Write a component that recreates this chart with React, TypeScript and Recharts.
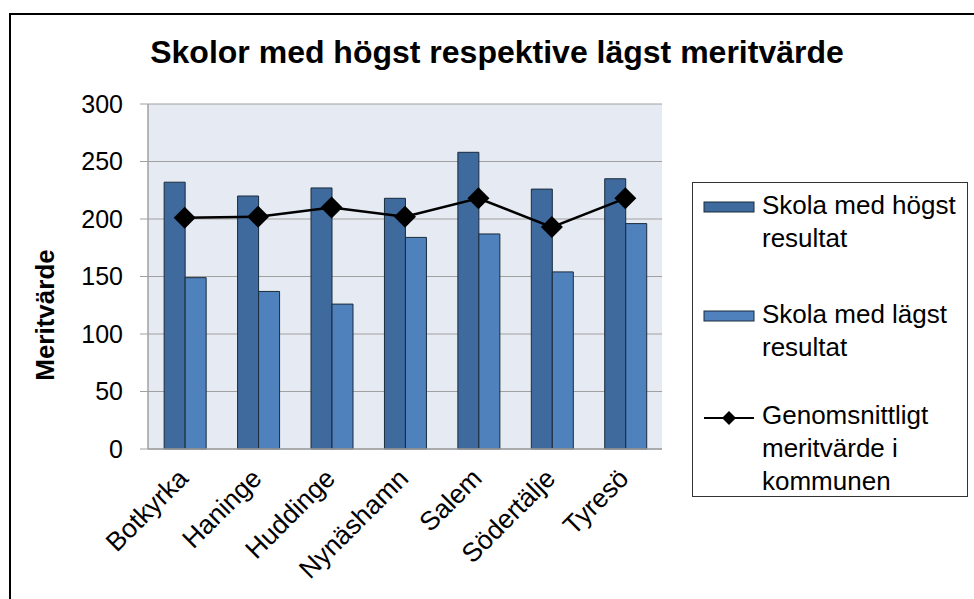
import { Bar, CartesianGrid, ComposedChart, Legend, Line, XAxis, YAxis } from "recharts";

const kommuner = ["Botkyrka", "Haninge", "Huddinge", "Nynäshamn", "Salem", "Södertälje", "Tyresö"];
const hogst = [232, 220, 227, 218, 258, 226, 235];
const lagst = [149, 137, 126, 184, 187, 154, 196];
const snitt = [201, 202, 210, 202, 218, 193, 218];
const yTicks = [0, 50, 100, 150, 200, 250, 300];

const data = kommuner.map((name, i) => ({
  name,
  hogst: hogst[i],
  lagst: lagst[i],
  snitt: snitt[i],
}));

const FONT = '"Liberation Sans", Arial, sans-serif';
const DARK = "#3F6A9D";
const LIGHT = "#4F81BD";

function Diamond(props: any) {
  const { cx, cy } = props;
  if (cx == null || cy == null) return null;
  const r = 11;
  return <path d={`M${cx},${cy - r}L${cx + r},${cy}L${cx},${cy + r}L${cx - r},${cy}Z`} fill="#000" />;
}

function XTick({ x, y, payload }: any) {
  return (
    <g transform={`translate(${x + 5},${y + 23})`}>
      <text x={0} y={0} textAnchor="end" transform="rotate(-45)" fontSize={26.5} fontFamily={FONT} fill="#000">
        {payload.value}
      </text>
    </g>
  );
}

function LegendBox() {
  const textStyle = { fontSize: 26, lineHeight: "33px", fontFamily: FONT, color: "#000" };
  const swatch = (color: string) => (
    <svg width={52} height={12} style={{ position: "absolute", left: 10, top: 9 }}>
      <rect x={1} y={1} width={50} height={10} fill={color} stroke="#1a2a3a" strokeWidth={1} />
    </svg>
  );
  return (
    <div
      style={{
        width: 276,
        height: 315,
        border: "1.5px solid #333",
        background: "#fff",
        boxSizing: "border-box",
        position: "relative",
      }}
    >
      <div style={{ position: "absolute", left: 0, top: 9, width: 276, height: 70 }}>
        {swatch(DARK)}
        <div style={{ ...textStyle, position: "absolute", left: 69, top: -3 }}>
          Skola med högst
          <br />
          resultat
        </div>
      </div>
      <div style={{ position: "absolute", left: 0, top: 118, width: 276, height: 70 }}>
        {swatch(LIGHT)}
        <div style={{ ...textStyle, position: "absolute", left: 69, top: -3 }}>
          Skola med lägst
          <br />
          resultat
        </div>
      </div>
      <div style={{ position: "absolute", left: 0, top: 219, width: 276, height: 100 }}>
        <svg width={54} height={20} style={{ position: "absolute", left: 10, top: 6 }}>
          <line x1={1} y1={10} x2={51} y2={10} stroke="#000" strokeWidth={2} />
          <path d="M26,3L33,10L26,17L19,10Z" fill="#000" />
        </svg>
        <div style={{ ...textStyle, position: "absolute", left: 69, top: -3 }}>
          Genomsnittligt
          <br />
          meritvärde i
          <br />
          kommunen
        </div>
      </div>
    </div>
  );
}

export default function App() {
  return (
    <div style={{ position: "absolute", left: 0, top: 0, width: 974, height: 599, background: "#fff", overflow: "hidden" }}>
      <div
        style={{
          position: "absolute",
          left: 9,
          top: 13,
          width: 980,
          height: 600,
          border: "2.5px solid #000",
        }}
      />
      <div
        style={{
          position: "absolute",
          left: 0,
          top: 34,
          width: 994,
          textAlign: "center",
          fontFamily: FONT,
          fontWeight: "bold",
          fontSize: 32,
          color: "#000",
        }}
      >
        Skolor med högst respektive lägst meritvärde
      </div>
      <div style={{ position: "absolute", left: 0, top: 0 }}>
        <ComposedChart
          width={974}
          height={599}
          data={data}
          margin={{ top: 104, right: 312, bottom: 120, left: 0 }}
          barCategoryGap="22%"
          barGap={0}
        >
          <CartesianGrid vertical={false} fill="#E6EBF3" stroke="#A0A0A0" strokeWidth={1.2} />
          <XAxis
            dataKey="name"
            height={30}
            tick={<XTick />}
            tickLine={false}
            axisLine={{ stroke: "#A0A0A0", strokeWidth: 1.5 }}
            interval={0}
          />
          <YAxis
            width={148}
            domain={[0, 300]}
            ticks={yTicks}
            tickSize={8}
            tickMargin={17}
            tick={{ fontSize: 25, fontFamily: FONT, fill: "#000" }}
            tickLine={{ stroke: "#A0A0A0" }}
            axisLine={{ stroke: "#A0A0A0", strokeWidth: 1.5 }}
            label={{
              content: () => (
                <text
                  x={45}
                  y={315}
                  textAnchor="middle"
                  dominantBaseline="central"
                  transform="rotate(-90, 45, 315)"
                  fontSize={26}
                  fontWeight="bold"
                  fontFamily={FONT}
                  fill="#000"
                >
                  Meritvärde
                </text>
              ),
            }}
          />
          <Bar dataKey="hogst" fill={DARK} stroke="#1a2a3a" strokeWidth={1} isAnimationActive={false} />
          <Bar dataKey="lagst" fill={LIGHT} stroke="#1a2a3a" strokeWidth={1} isAnimationActive={false} />
          <Line
            dataKey="snitt"
            stroke="#000"
            strokeWidth={2.5}
            dot={<Diamond />}
            activeDot={false}
            isAnimationActive={false}
          />
          <Legend
            layout="vertical"
            align="center"
            verticalAlign="middle"
            content={() => <LegendBox />}
            wrapperStyle={{ left: 692, top: 182, width: 276, height: 315 }}
          />
        </ComposedChart>
      </div>
    </div>
  );
}
